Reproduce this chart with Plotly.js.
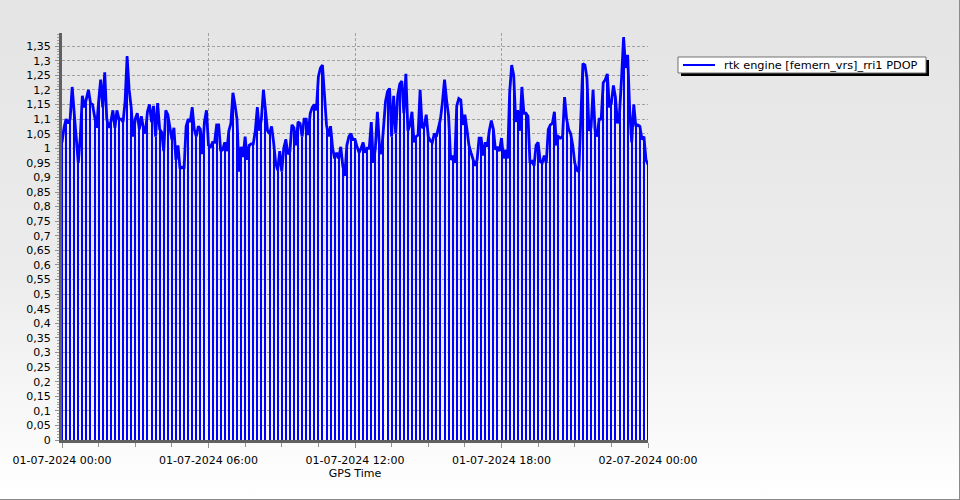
<!DOCTYPE html>
<html><head><meta charset="utf-8">
<script src="https://cdn.plot.ly/plotly-3.0.1.min.js"></script>
<style>
html,body{margin:0;padding:0;}
body{width:960px;height:500px;overflow:hidden;background:linear-gradient(to bottom,#e4e4e4 0%,#ececec 55%,#ffffff 100%);}
#chart{width:960px;height:500px;box-sizing:border-box;border-right:1px solid #8a8a8a;border-bottom:1px solid #8a8a8a;}
</style></head><body><div id="chart"></div>
<script>
const seriesName = 'rtk engine [femern_vrs]_rri1 PDOP';
const xTitle = 'GPS Time';
const startDay = '2024-07-01';
const endDay = '2024-07-02';
const stepMinutes = 5;
const pdop = [
1.02,1.07,1.10,1.085,1.10,1.21,1.12,1.03,0.95,1.04,
1.18,1.14,1.17,1.20,1.155,1.15,1.11,1.07,1.16,1.235,
1.14,1.26,1.10,1.07,1.09,1.13,1.07,1.13,1.10,1.10,
1.09,1.16,1.315,1.20,1.14,1.04,1.10,1.12,1.065,1.11,
1.07,1.05,1.125,1.15,1.09,1.145,1.04,1.155,1.065,1.055,
0.99,1.13,1.115,1.065,1.03,1.07,0.96,1.01,0.93,0.935,
0.93,1.075,1.10,1.09,1.14,1.065,1.04,1.075,1.065,0.98,
1.09,1.13,1.01,1.005,1.02,1.02,1.08,1.08,0.99,0.995,
1.02,0.99,1.06,1.085,1.19,1.15,1.10,0.92,1.005,0.97,
1.04,0.96,1.01,1.015,1.015,1.06,1.14,1.06,
1.10,1.20,1.125,1.06,1.05,1.075,1.02,0.95,0.925,0.99,
0.92,1.00,1.03,0.98,0.99,1.08,1.07,1.01,1.09,1.085,
1.04,1.10,1.10,1.045,1.12,1.14,1.15,1.13,1.245,1.275,
1.285,1.17,1.08,1.04,1.075,1.00,0.965,0.985,0.965,1.005,
0.94,0.905,1.01,1.04,1.05,1.03,1.03,1.005,0.985,1.00,
1.02,0.985,1.00,1.00,1.09,0.95,1.00,1.125,1.01,0.98,
1.065,1.16,1.195,1.205,1.04,1.18,1.05,1.18,1.22,1.23,
1.12,1.255,1.06,1.08,1.125,1.02,1.04,1.045,1.20,1.07,
1.075,1.115,1.04,1.025,1.02,1.05,1.04,1.07,1.10,1.16,
1.235,1.165,1.11,0.96,0.975,0.95,1.145,1.17,1.165,
1.08,1.115,1.065,1.01,0.985,0.96,0.94,0.96,1.035,1.035,
0.975,1.02,1.005,1.06,1.095,1.065,0.995,1.005,0.99,1.035,
0.965,0.995,0.965,1.19,1.285,1.25,1.09,1.13,1.06,1.21,
1.12,1.12,1.11,0.95,0.955,0.94,1.01,1.02,0.955,0.95,
0.975,0.95,1.065,1.08,1.085,1.125,1.01,1.04,1.035,1.04,
1.175,1.10,1.065,1.05,1.01,0.95,0.925,0.92,1.085,1.29,
1.285,1.24,1.06,1.07,1.20,1.06,1.04,1.10,1.10,1.225,
1.235,1.255,1.14,1.155,1.215,1.175,1.085,1.12,1.24,1.38,
1.275,1.32,1.13,1.02,1.15,1.075,1.08,1.075,1.03,1.04,
0.96,0.945
];

function pad(n){return (n<10?'0':'')+n;}
const times = pdop.map((_, i) => {
  const m = i*stepMinutes;
  const day = m >= 1440 ? endDay : startDay;
  const mm = m % 1440;
  return day + ' ' + pad(Math.floor(mm/60)) + ':' + pad(mm%60);
});
const barX = times.filter((_, i) => i % 2 === 0);
const barY = pdop.filter((_, i) => i % 2 === 0);

const FONT = 'DejaVu Sans, Verdana, sans-serif';
const BLUE = '#0000ff';

const traces = [
  {type:'bar', x: barX, y: barY, width: 4.9*60*1000, marker:{color: BLUE, line:{width:0}},
   showlegend:false, hoverinfo:'skip'},
  {type:'scatter', mode:'lines', x: times, y: pdop, name: seriesName,
   line:{color: BLUE, width: 2.8}, showlegend:false}
];

const pL = 62, pR = 648, pT = 33, pB = 440;
const pw = pR - pL, ph = pB - pT;
const px = v => (v - pL)/pw;
const py = v => (pB - v)/ph;

const layout = {
  width: 960, height: 500,
  margin: {l: pL, r: 960 - pR, t: pT, b: 500 - pB},
  paper_bgcolor: 'rgba(0,0,0,0)',
  plot_bgcolor: 'rgba(0,0,0,0)',
  separators: ',.',
  font: {family: FONT, size: 11, color: '#000'},
  bargap: 0,
  showlegend: false,
  xaxis: {
    type: 'date',
    range: [startDay + ' 00:00', endDay + ' 00:00'],
    dtick: 6*3600*1000,
    tick0: startDay + ' 00:00',
    tickformat: '%d-%m-%Y %H:%M',
    showgrid: true, gridcolor: '#a0a0a0', griddash: '3px,2px', gridwidth: 1,
    showline: true, linecolor: '#606060', linewidth: 3,
    ticks: 'outside', ticklen: 5, tickcolor: '#909090',
    ticklabelstandoff: 3,
    minor: {dtick: 1.5*3600*1000, ticks: 'outside', ticklen: 4, tickcolor: '#909090', showgrid: false},
    tickfont: {family: FONT, size: 11, color: '#000'},
    title: {text: xTitle, font: {family: FONT, size: 11, color: '#000'}, standoff: 4},
    zeroline: false, fixedrange: true
  },
  yaxis: {
    range: [0, 1.395],
    dtick: 0.05, tick0: 0,
    showgrid: true, gridcolor: '#a0a0a0', griddash: '3px,2px', gridwidth: 1,
    showline: true, linecolor: '#606060', linewidth: 3,
    ticks: 'outside', ticklen: 4, tickcolor: '#909090',
    ticklabelstandoff: 2,
    minor: {dtick: 0.01, ticks: 'outside', ticklen: 2, tickcolor: '#a0a0a0', showgrid: false},
    tickfont: {family: FONT, size: 11, color: '#000'},
    zeroline: false, fixedrange: true
  },
  shapes: [
    {type:'rect', xref:'paper', yref:'paper', x0: px(681), x1: px(929), y0: py(76), y1: py(60),
     fillcolor:'#000', line:{width:0}, layer:'above'},
    {type:'rect', xref:'paper', yref:'paper', x0: px(678), x1: px(926), y0: py(73), y1: py(57),
     fillcolor:'#fff', line:{color:'#707070', width:1}, layer:'above'},
    {type:'line', xref:'paper', yref:'paper', x0: px(683), x1: px(715), y0: py(65), y1: py(65),
     line:{color: BLUE, width: 2}, layer:'above'}
  ],
  annotations: [
    {xref:'paper', yref:'paper', x: px(722), y: py(65.5), xanchor:'left', yanchor:'middle',
     text: seriesName, showarrow:false, font:{family: FONT, size: 11.3, color:'#000'}}
  ]
};

Plotly.newPlot('chart', traces, layout, {displayModeBar: false, staticPlot: true});
</script></body></html>
